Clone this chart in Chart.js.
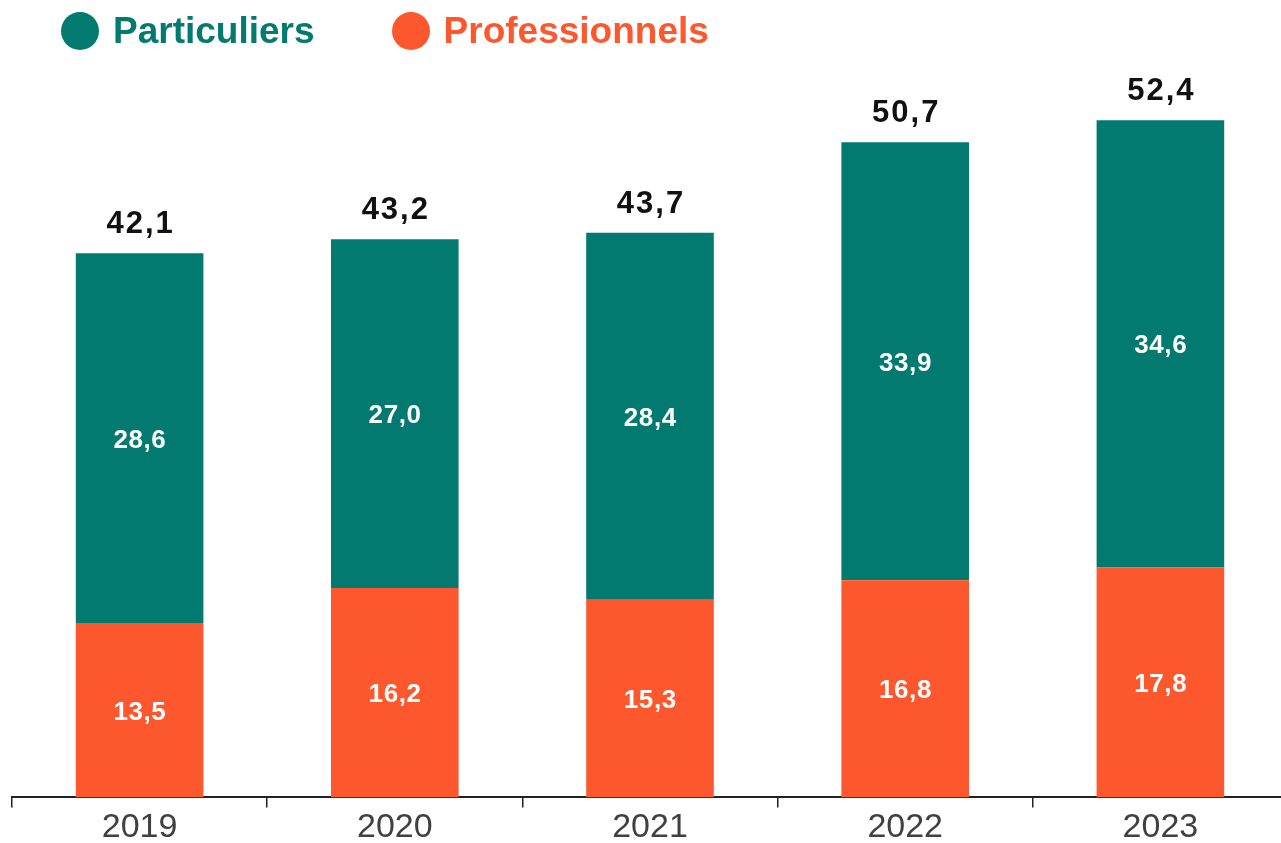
<!DOCTYPE html>
<html>
<head>
<meta charset="utf-8">
<script src="https://cdn.jsdelivr.net/npm/chart.js@4"></script>
<style>
  html, body { margin: 0; padding: 0; background: #ffffff; overflow: hidden; }
  #wrap { position: relative; width: 1281px; height: 843px; overflow: hidden; }
  #legend { position: absolute; left: 61px; top: 11.5px; display: flex; align-items: center; font-family: "Liberation Sans", Arial, sans-serif; font-weight: bold; font-size: 37px; line-height: 38px; }
  .item { display: flex; align-items: center; }
  .dot { width: 38px; height: 38px; border-radius: 50%; margin-right: 14px; }
  .item + .item { margin-left: 77px; }
  canvas { position: absolute; left: 0; top: 0; }
</style>
</head>
<body>
<div id="wrap">
  <canvas id="c" width="1288" height="847"></canvas>
  <div id="legend"></div>
</div>
<script>
// ---- data ----
const categories = ['2019', '2020', '2021', '2022', '2023'];
const professionnels = [13.5, 16.2, 15.3, 16.8, 17.8];
const particuliers = [28.6, 27.0, 28.4, 33.9, 34.6];
const totals = [42.1, 43.2, 43.7, 50.7, 52.4];
const legendOrder = ['Particuliers', 'Professionnels'];

const COLORS = { 'Particuliers': '#027A70', 'Professionnels': '#FC572D' };
const fmt = v => v.toFixed(1).replace('.', ',');

// HTML legend built from series names
const legendEl = document.getElementById('legend');
legendOrder.forEach(name => {
  const it = document.createElement('div');
  it.className = 'item';
  const d = document.createElement('span');
  d.className = 'dot';
  d.style.background = COLORS[name];
  const t = document.createElement('span');
  t.textContent = name;
  t.style.color = COLORS[name];
  it.appendChild(d); it.appendChild(t);
  legendEl.appendChild(it);
});

const labelPlugin = {
  id: 'barLabels',
  afterDatasetsDraw(chart) {
    const ctx = chart.ctx;
    ctx.save();
    ctx.textAlign = 'center';
    ctx.textBaseline = 'alphabetic';
    // inner labels
    const innerSize = 26, innerLs = 0.6;
    ctx.font = 'bold ' + innerSize + 'px "Liberation Sans", Arial, sans-serif';
    ctx.letterSpacing = innerLs + 'px';
    ctx.fillStyle = '#ffffff';
    chart.data.datasets.forEach((ds, di) => {
      const meta = chart.getDatasetMeta(di);
      meta.data.forEach((bar, i) => {
        const cy = (bar.y + bar.base) / 2;
        ctx.fillText(fmt(ds.data[i]), bar.x + innerLs / 2, cy + innerSize * 0.36);
      });
    });
    // totals above the stack
    const totSize = 31, totLs = 2;
    ctx.font = 'bold ' + totSize + 'px "Liberation Sans", Arial, sans-serif';
    ctx.letterSpacing = totLs + 'px';
    ctx.fillStyle = '#111111';
    const topMeta = chart.getDatasetMeta(chart.data.datasets.length - 1);
    topMeta.data.forEach((bar, i) => {
      ctx.fillText(fmt(totals[i]), bar.x + totLs / 2, bar.y - 20);
    });
    ctx.restore();
  }
};

new Chart(document.getElementById('c'), {
  type: 'bar',
  data: {
    labels: categories,
    datasets: [
      { label: 'Professionnels', data: professionnels, backgroundColor: COLORS['Professionnels'], borderWidth: 0 },
      { label: 'Particuliers', data: particuliers, backgroundColor: COLORS['Particuliers'], borderWidth: 0 }
    ]
  },
  options: {
    responsive: false,
    maintainAspectRatio: false,
    animation: false,
    layout: { padding: { left: 12, right: 0, top: 22, bottom: 0 } },
    datasets: { bar: { categoryPercentage: 1, barPercentage: 0.5 } },
    plugins: { legend: { display: false }, tooltip: { enabled: false } },
    scales: {
      x: {
        stacked: true,
        grid: { display: true, drawOnChartArea: false, drawTicks: true, tickLength: 10, color: '#222222', lineWidth: 1.5, offset: true },
        border: { display: true, color: '#222222', width: 2 },
        ticks: { color: '#404040', padding: 6.5, font: { family: '"Liberation Sans", Arial, sans-serif', size: 34, lineHeight: 0.78 } }
      },
      y: {
        stacked: true,
        display: false,
        min: 0,
        max: 60
      }
    }
  },
  plugins: [labelPlugin]
});
</script>
</body>
</html>
